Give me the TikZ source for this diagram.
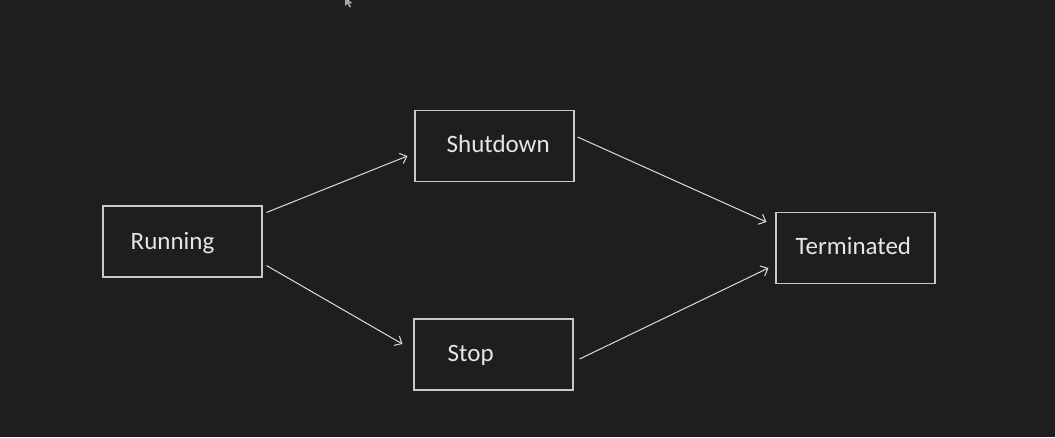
\documentclass[tikz,border=0pt]{standalone}
\usepackage{fontspec}
\setmainfont{Carlito}
\usetikzlibrary{arrows.meta,calc}
\definecolor{bg}{RGB}{31,30,30}
\definecolor{edge}{RGB}{200,200,198}
\definecolor{ink}{RGB}{230,230,228}
\definecolor{wire}{RGB}{220,220,218}
\begin{document}
\begin{tikzpicture}[x=1pt,y=-1pt,
  state/.style={draw=edge,line width=1.1pt,fill=none,minimum width=159pt,minimum height=71pt,inner sep=0pt},
  caption/.style={anchor=base west,inner sep=0pt,text=ink,font=\fontsize{25}{29}\selectfont},
  flow/.style={draw=wire,line width=1pt,-{Straight Barb[length=6pt,width=11pt,line width=1pt]}}]
  % canvas
  \fill[bg] (0,0) rectangle (1055,437);
  \useasboundingbox (0,0) rectangle (1055,437);
  % mouse pointer at the top edge
  \fill[gray!70] (345,-3) -- (345,6) -- (347.5,3.8) -- (349.5,7.5) -- (351,6.8) -- (349.2,3.3) -- (352.5,3.3) -- cycle;
  % state boxes
  \node[state] (run)  at (182.5,241.5) {};
  \node[state] (shut) at (494.5,146)   {};
  \node[state] (stop) at (493.5,354.5) {};
  \node[state] (term) at (855.5,248)   {};
  % state names
  \node[caption] (runT)  at (130.5,249) {Running};
  \node[caption] (shutT) at (446.5,152) {Shutdown};
  \node[caption] (stopT) at (447.5,361) {Stop};
  \node[caption] (termT) at (795.5,254) {Terminated};
  % transitions
  \draw[flow] ($(run.north east)+(4,7)$) -- ($(shut.west)+(-7,10)$);
  \draw[flow] ($(run.south east)+(4,-12)$) -- ($(stop.west)+(-11,-10.5)$);
  \draw[flow] ($(shut.east)+(3,-9)$) -- ($(term.north west)+(-9,10)$);
  \draw[flow] ($(stop.east)+(6,4.5)$) -- ($(term.west)+(-7,20)$);
\end{tikzpicture}
\end{document}
